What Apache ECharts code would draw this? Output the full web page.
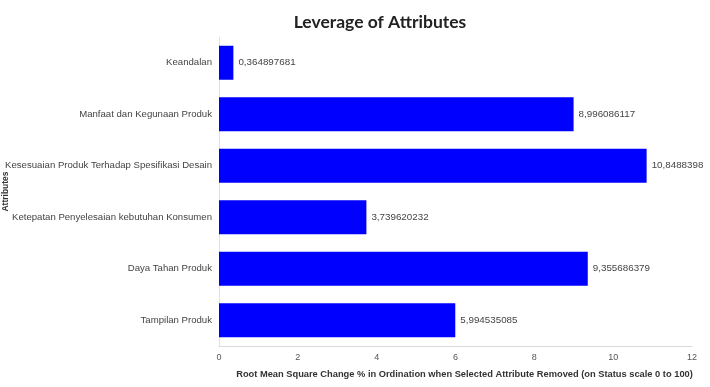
<!DOCTYPE html>
<html><head><meta charset="utf-8">
<script src="https://cdn.jsdelivr.net/npm/echarts@6/dist/echarts.min.js"></script>
<style>html,body{margin:0;padding:0;background:#fff}#c{width:710px;height:387px}</style>
</head><body><div id="c"></div>
<script>
const categories = ["Tampilan Produk","Daya Tahan Produk","Ketepatan Penyelesaian kebutuhan Konsumen","Kesesuaian Produk Terhadap Spesifikasi Desain","Manfaat dan Kegunaan Produk","Keandalan"];
const values = [5.994535085, 9.355686379, 3.739620232, 10.8488398, 8.996086117, 0.364897681];
const xTicks = [0, 2, 4, 6, 8, 10, 12];
const chart = echarts.init(document.getElementById('c'), null, {renderer:'canvas'});
chart.setOption({
  animation:false,
  backgroundColor:'#fff',
  title:{text:'Leverage of Attributes', left:375, textAlign:'center', top:8,
    textStyle:{fontFamily:'Lato', fontWeight:'bold', fontSize:17.5, color:'#222'}},
  grid:{left:219, right:18, top:37, bottom:41, containLabel:false, outerBoundsMode:'none'},
  xAxis:{type:'value', min:xTicks[0], max:xTicks[xTicks.length-1], interval:2,
    name:'Root Mean Square Change % in Ordination when Selected Attribute Removed (on Status scale 0 to 100)',
    nameLocation:'middle', nameGap:24, nameMoveOverlap:false,
    nameTextStyle:{fontFamily:'Liberation Sans', fontWeight:'bold', fontSize:9.3, color:'#333', padding:[0,0,0,18]},
    axisLine:{show:true, lineStyle:{color:'#d9d9d9'}},
    axisTick:{show:false},
    splitLine:{show:false},
    axisLabel:{fontFamily:'Liberation Sans', fontSize:9, color:'#555', margin:7}},
  yAxis:{type:'category', data:categories,
    name:'Attributes', nameLocation:'middle', nameGap:209, nameRotate:90, nameMoveOverlap:false,
    nameTextStyle:{fontFamily:'Liberation Sans', fontWeight:'bold', fontSize:8.5, color:'#333'},
    axisLine:{show:true, lineStyle:{color:'#f0e6a0'}},
    axisTick:{show:false},
    axisLabel:{fontFamily:'Liberation Sans', fontSize:9.6, color:'#444', margin:7}},
  series:[{type:'bar', data:values, barWidth:34, itemStyle:{color:'#0000ff'},
    label:{show:true, position:'right', distance:5, fontFamily:'Liberation Sans', fontSize:9.8, color:'#444',
      formatter:p=>String(p.value).replace('.',',')}}]
});
</script></body></html>
